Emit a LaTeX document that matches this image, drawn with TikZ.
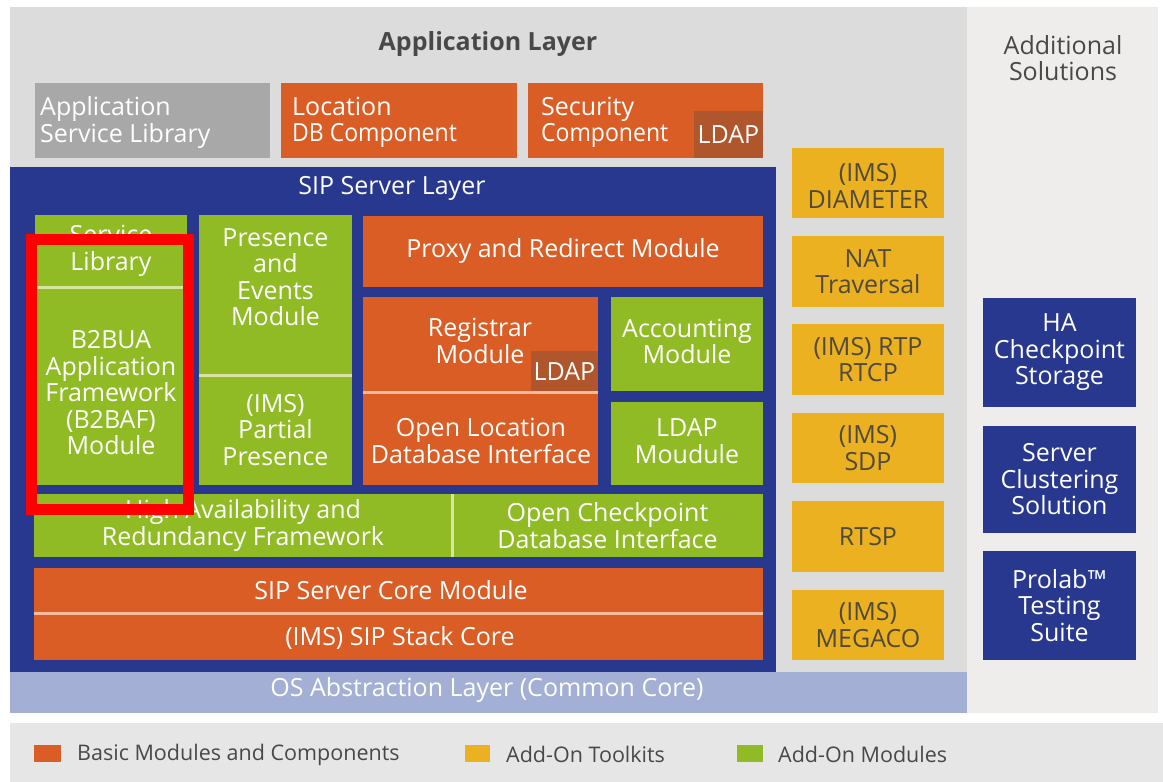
\documentclass[tikz,border=0pt]{standalone}
\usepackage{fontspec}
\setmainfont{Open Sans}

\definecolor{orangeC}{RGB}{217,93,36}
\definecolor{ldapC}{RGB}{176,86,44}
\definecolor{greenC}{RGB}{145,187,36}
\definecolor{blueC}{RGB}{40,56,142}
\definecolor{yellowC}{RGB}{236,177,33}
\definecolor{appbgC}{RGB}{220,220,220}
\definecolor{addbgC}{RGB}{239,237,235}
\definecolor{osC}{RGB}{164,175,214}
\definecolor{legbgC}{RGB}{230,230,230}
\definecolor{aslC}{RGB}{168,168,168}
\definecolor{headC}{RGB}{72,72,72}
\definecolor{ytextC}{RGB}{80,74,60}
\definecolor{gdivC}{RGB}{214,230,160}
\definecolor{odivC}{RGB}{246,186,156}

\newcommand\narrowword{\addfontfeatures{FakeStretch=0.92}}

\tikzset{
  boxtext/.style={font=\fontsize{25}{26.5}\selectfont},
  blk/.style={inner sep=0pt, outer sep=0pt, draw=none, align=center,
    boxtext, text=white},
  sz/.style 2 args={minimum width=#1pt, minimum height=#2pt},
  orangebox/.style={blk, fill=orangeC},
  greenbox/.style={blk, fill=greenC},
  bluebox/.style={blk, fill=blueC},
  yellowbox/.style={blk, fill=yellowC, text=ytextC},
  ldapbox/.style={blk, fill=ldapC},
  area/.style={blk, text=headC},
  lbl/.style={inner sep=0pt, align=center, boxtext, text=white},
  lbll/.style={lbl, align=left, anchor=west},
  gdiv/.style={draw=gdivC, line width=3pt},
  odiv/.style={draw=odivC, line width=3pt},
  legsq/.style={inner sep=0pt, draw=none},
  legtext/.style={inner sep=0pt, anchor=west, text=headC, font=\fontsize{21.5}{26}\selectfont},
  marker/.style={draw=red, line width=11pt}
}

\begin{document}
\begin{tikzpicture}[x=1pt, y=-1pt]
\useasboundingbox[fill=white] (0,0) rectangle (1163,782);

% background areas
\node[area, fill=appbgC, sz={957}{665}] (app) at (488.5,339.5) {};
\node[area, fill=addbgC, sz={191}{706}] (add) at (1062.5,360) {};
\node[area, fill=osC, sz={957}{41}] (os) at (488.5,692.5) {};
\node[lbl] (ostext) at (487,690) {OS Abstraction Layer (Common Core)};
\node[area, fill=legbgC, sz={1153}{59}] (legend) at (586.5,752.5) {};

% headings
\node[area, font=\fontsize{25}{28}\selectfont\bfseries] (apptitle) at (488,44) {Application Layer};
\node[area] (addtitle) at (1063,58) {Additional\\Solutions};

% application layer components
\node[blk, fill=aslC, sz={235}{75}] (asl) at (152.5,120.5) {};
\node[lbll] at ([xshift=5pt,yshift=-2pt]asl.west) {Application\\Service Library};
\node[orangebox, sz={236}{75}] (locdb) at (399,120.5) {};
\node[lbll] at ([xshift=11pt,yshift=-2pt]locdb.west) {Location\\\narrowword DB Component};
\node[orangebox, sz={235}{75}] (sec) at (645.5,120.5) {};
\node[lbll] at ([xshift=13pt,yshift=-2pt]sec.west) {Security\\\narrowword Component};
\node[ldapbox, sz={69}{47}] (secldap) at (728.5,134.5) {LDAP};

% SIP server layer
\node[bluebox, sz={766}{505}] (sip) at (393,419.5) {};
\node[lbl] (siptitle) at (392,188) {SIP Server Layer};

\node[greenbox, sz={152}{72}] (svclib) at (111,251) {Service\\Library};
\node[greenbox, sz={152}{198}] (b2b) at (111,386) {};
\node[lbl] at (111,393) {B2BUA\\Application\\Framework\\(B2BAF)\\Module};
\draw[gdiv] (svclib.south west) -- (svclib.south east);

\node[greenbox, sz={153}{160}] (pres) at (275.5,295) {};
\node[lbl] at (275.5,277) {Presence\\and\\Events\\Module};
\node[greenbox, sz={153}{110}] (ppres) at (275.5,430) {(IMS)\\Partial\\Presence};
\draw[gdiv] (pres.south west) -- (pres.south east);

\node[orangebox, sz={400}{71}] (proxy) at (563,251.5) {Proxy and Redirect Module};

\node[orangebox, sz={235}{95}] (reg) at (480.5,344.5) {};
\node[lbl] at (480,341) {Registrar\\Module};
\node[ldapbox, sz={67}{41}] (regldap) at (564.5,371.5) {LDAP};
\node[orangebox, sz={235}{93}] (oldb) at (480.5,438.5) {};
\node[lbl] at (481,441) {Open Location\\Database Interface};
\draw[odiv] (reg.south west) -- (reg.south east);

\node[greenbox, sz={152}{94}] (acct) at (687,344) {};
\node[lbl] at (687,341.5) {Accounting\\Module};
\node[greenbox, sz={152}{83}] (ldapmod) at (687,443.5) {};
\node[lbl] at (687,441) {LDAP\\Moudule};

\node[greenbox, sz={418}{63}] (ha) at (243,525.5) {High Availability and\\Redundancy Framework};
\node[greenbox, sz={311}{63}] (ocdb) at (607.5,525.5) {Open Checkpoint\\Database Interface};
\draw[gdiv] (ha.north east) -- (ha.south east);

\node[orangebox, sz={729}{45}] (core) at (398.5,590.5) {};
\node[lbl] at (391,590) {SIP Server Core Module};
\node[orangebox, sz={729}{47}] (stack) at (398.5,636.5) {};
\node[lbl] at (400,638) {(IMS) SIP Stack Core};
\draw[odiv] (core.south west) -- (core.south east);

% add-on toolkits
\node[yellowbox, sz={152}{70}] (diam) at (868,183) {};
\node[lbl, text=ytextC] at (868,186) {(IMS)\\DIAMETER};
\node[yellowbox, sz={152}{71}] (nat) at (868,271.5) {NAT\\Traversal};
\node[yellowbox, sz={152}{71}] (rtp) at (868,359.5) {(IMS) RTP\\RTCP};
\node[yellowbox, sz={152}{70}] (sdp) at (868,448) {(IMS)\\SDP};
\node[yellowbox, sz={152}{71}] (rtsp) at (868,536.5) {RTSP};
\node[yellowbox, sz={152}{70}] (megaco) at (868,625) {(IMS)\\MEGACO};

% additional solutions
\node[bluebox, sz={153}{109}] (hacs) at (1059.5,352.5) {HA\\Checkpoint\\Storage};
\node[bluebox, sz={153}{107}] (clus) at (1059.5,479.5) {Server\\Clustering\\Solution};
\node[bluebox, sz={153}{109}] (prolab) at (1059.5,605.5) {Prolab™\\Testing\\Suite};

% highlight frame
\draw[marker] (31.5,239.5) rectangle (188.5,509.5);

% legend
\node[legsq, fill=orangeC, sz={27}{17}] (sqb) at (47.5,753.5) {};
\node[legtext] (lb) at (77,754.5) {Basic Modules and Components};
\node[legsq, fill=yellowC, sz={25}{17}] (sqt) at (477.5,753.5) {};
\node[legtext] (lt) at (506,754.5) {Add-On Toolkits};
\node[legsq, fill=greenC, sz={26}{17}] (sqm) at (750,753.5) {};
\node[legtext] (lm) at (778,754.5) {Add-On Modules};
\end{tikzpicture}
\end{document}
